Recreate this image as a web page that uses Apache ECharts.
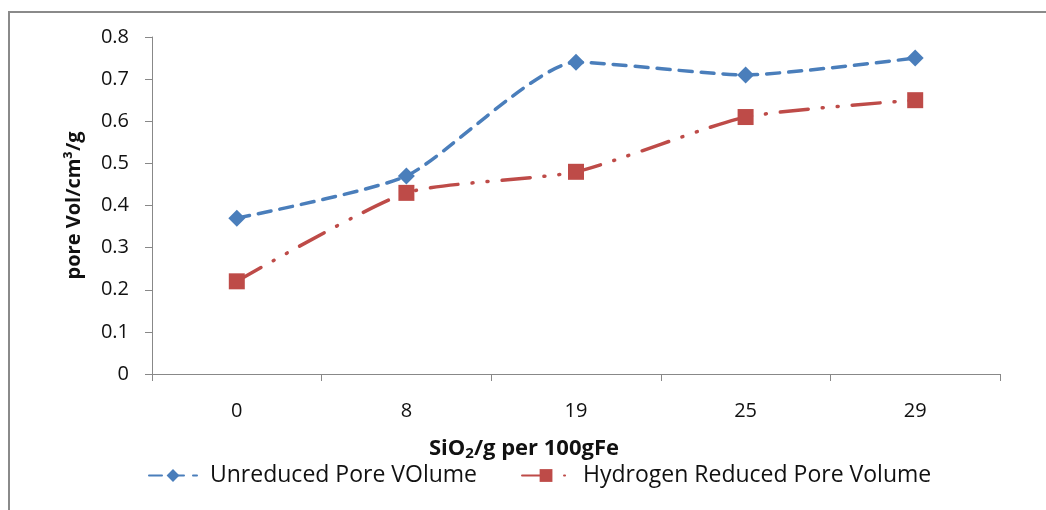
<!DOCTYPE html>
<html><head><meta charset="utf-8">
<script src="https://cdn.jsdelivr.net/npm/echarts@6/dist/echarts.min.js"></script>
<style>html,body{margin:0;padding:0;background:#fff}#c{width:1046px;height:510px}</style>
</head><body><div id="c"></div>
<script>
const categories = ['0', '8', '19', '25', '29'];
const unreduced = [0.37, 0.47, 0.74, 0.71, 0.75];
const hydrogen = [0.22, 0.43, 0.48, 0.61, 0.65];
const yTicks = { min: 0, max: 0.8, interval: 0.1 };

const chart = echarts.init(document.getElementById('c'));
const font = 'Open Sans';
chart.setOption({
  animation: false,
  graphic: [{
    type: 'rect', shape: { x: 9, y: 12, width: 1100, height: 600 },
    style: { fill: 'none', stroke: '#8a8a8a', lineWidth: 2 }, silent: true, z: -1
  }],
  grid: { left: 152, right: 46, top: 37, bottom: 136 },
  xAxis: {
    type: 'category', data: categories, boundaryGap: true,
    axisLine: { lineStyle: { color: '#888', width: 1 } },
    axisTick: { show: true, length: 7, lineStyle: { color: '#888' }, alignWithLabel: false },
    axisLabel: { color: '#111', fontSize: 20, fontFamily: font, margin: 27 },
    name: '{b|SiO}{s|2}{b|/g per 100gFe}', nameLocation: 'middle', nameGap: 62,
    nameTextStyle: {
      padding: [0, 104, 0, 0],
      rich: {
        b: { fontSize: 22, fontWeight: 'bold', fontFamily: font, color: '#111' },
        s: { fontSize: 15, fontWeight: 'bold', fontFamily: font, color: '#111', verticalAlign: 'bottom', padding: [10, 0, 0, 0] }
      }
    },
    splitLine: { show: false }
  },
  yAxis: {
    type: 'value', min: yTicks.min, max: yTicks.max, interval: yTicks.interval,
    axisLine: { show: true, lineStyle: { color: '#888', width: 1 } },
    axisTick: { show: true, length: 7, lineStyle: { color: '#888' } },
    axisLabel: { color: '#111', fontSize: 20, fontFamily: font, margin: 23,
      formatter: v => v === 0 ? '0' : v.toFixed(1) },
    splitLine: { show: false },
    name: 'pore Vol/cm³/g', nameLocation: 'middle', nameGap: 68,
    nameTextStyle: { fontSize: 20, fontWeight: 'bold', fontFamily: font, color: '#111' }
  },
  legend: {
    bottom: 18, left: 143, itemGap: 44, itemWidth: 48, itemHeight: 16,
    textStyle: { fontSize: 23, fontFamily: font, color: '#111', padding: [0, 0, 0, 8] },
    data: ['Unreduced Pore VOlume', 'Hydrogen Reduced Pore Volume']
  },
  series: [{
    name: 'Unreduced Pore VOlume', type: 'line', data: unreduced, smooth: 0.2,
    symbol: 'diamond', symbolSize: 17,
    itemStyle: { color: '#4a7ebb' },
    lineStyle: { color: '#4a7ebb', width: 3.5, type: [13, 9], cap: 'round' }
  }, {
    name: 'Hydrogen Reduced Pore Volume', type: 'line', data: hydrogen, smooth: 0.2,
    symbol: 'rect', symbolSize: 16,
    itemStyle: { color: '#be4b48' },
    lineStyle: { color: '#be4b48', width: 3.5, type: [28, 14, 1, 14, 1, 14], cap: 'round' }
  }]
});
</script></body></html>
